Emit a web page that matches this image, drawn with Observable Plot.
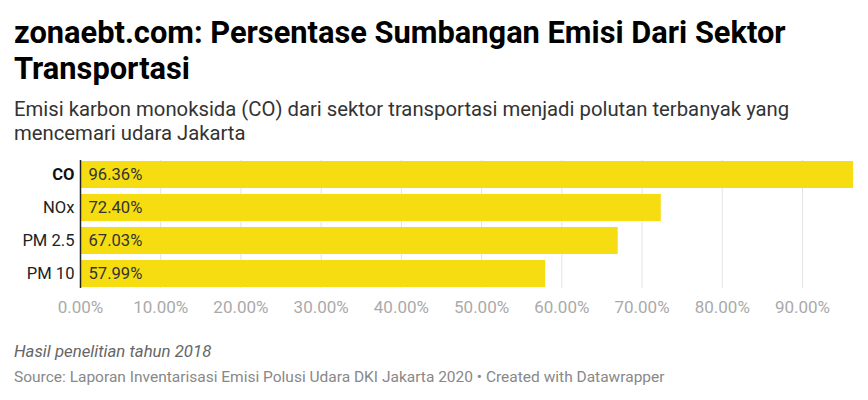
<!DOCTYPE html>
<html><head><meta charset="utf-8">
<script src="https://cdn.jsdelivr.net/npm/d3@7"></script>
<script src="https://cdn.jsdelivr.net/npm/@observablehq/plot@0.6"></script>
<style>
body{margin:0;background:#fff;font-family:Roboto,sans-serif;}
#wrap{position:relative;width:868px;height:400px;overflow:hidden;}
h1{position:absolute;left:14px;top:15px;margin:0;width:840px;font-size:30.8px;line-height:36px;font-weight:700;color:#000;}
.sub{position:absolute;left:14px;top:97px;margin:0;width:800px;font-size:20.3px;line-height:24px;color:#333;}
#chart{position:absolute;left:0;top:150px;}
.note{position:absolute;left:14px;top:341px;font-size:16.8px;font-style:italic;color:#666;}
.src{position:absolute;left:14px;top:368px;font-size:15.5px;color:#888;}
</style></head><body>
<div id="wrap">
<h1>zonaebt.com: Persentase Sumbangan Emisi Dari Sektor Transportasi</h1>
<p class="sub">Emisi karbon monoksida (CO) dari sektor transportasi menjadi polutan terbanyak yang mencemari udara Jakarta</p>
<div id="chart"></div>
<div class="note">Hasil penelitian tahun 2018</div>
<div class="src">Source: Laporan Inventarisasi Emisi Polusi Udara DKI Jakarta 2020 • Created with Datawrapper</div>
</div>
<script>
const categories = ["CO", "NOx", "PM 2.5", "PM 10"];
const values = [96.36, 72.40, 67.03, 57.99];
const ticks = [0, 10, 20, 30, 40, 50, 60, 70, 80, 90];
const gridTicks = [10, 20, 30, 40, 50, 60, 70, 80, 90];
const boldCategory = "CO";

const data = categories.map((c, i) => ({cat: c, val: values[i]}));
const fmt = v => v.toFixed(2) + "%";

const plot = Plot.plot({
  width: 868,
  height: 170,
  marginLeft: 80,
  marginRight: 15,
  marginTop: 10,
  marginBottom: 32,
  style: {fontFamily: "Roboto, sans-serif", fontSize: "16px", background: "#fff"},
  x: {domain: [0, 96.36], label: null},
  y: {domain: categories, paddingInner: 0.18, paddingOuter: 0, label: null, axis: null},
  marks: [
    Plot.ruleX(gridTicks, {stroke: "#e3e3e3", strokeWidth: 1}),
    Plot.barX(data, {y: "cat", x: "val", fill: "#f5dd11"}),
    Plot.ruleX([0], {stroke: "#222", strokeWidth: 1.5}),
    Plot.text(data, {y: "cat", x: 0, text: d => fmt(d.val), textAnchor: "start", dx: 8, fill: "#333", fontSize: 16.6}),
    Plot.text(data.filter(d => d.cat !== boldCategory), {y: "cat", x: 0, text: "cat", textAnchor: "end", dx: -6, fill: "#222", fontSize: 16.6}),
    Plot.text(data.filter(d => d.cat === boldCategory), {y: "cat", x: 0, text: "cat", textAnchor: "end", dx: -6, fill: "#111", fontSize: 16.6, fontWeight: 700}),
    Plot.axisX({ticks: ticks, tickFormat: fmt, tickSize: 0, tickPadding: 12, fill: "#aaa", fontSize: 17, label: null})
  ]
});
document.getElementById("chart").appendChild(plot);
</script>
</body></html>
